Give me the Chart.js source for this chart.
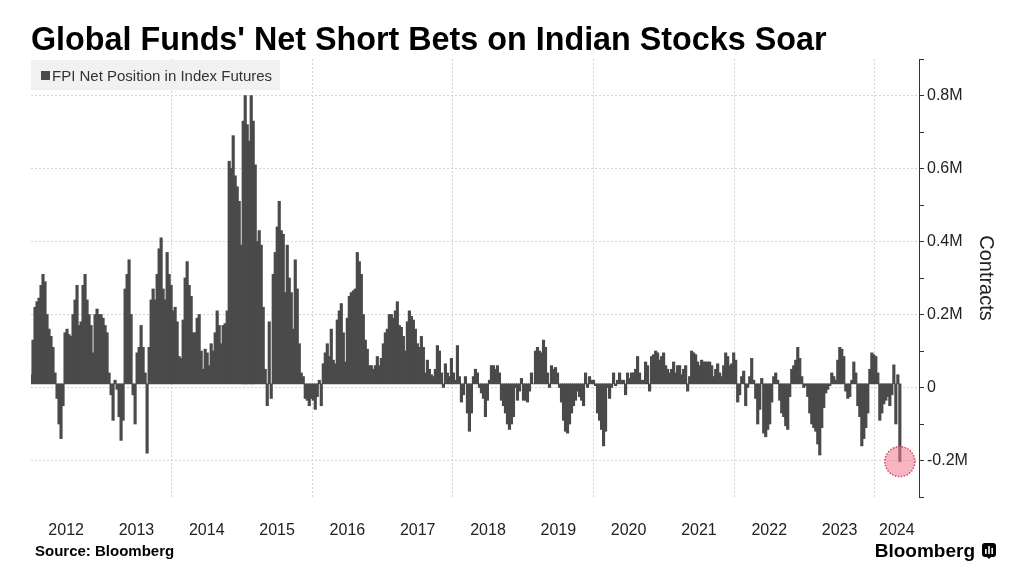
<!DOCTYPE html>
<html>
<head>
<meta charset="utf-8">
<script src="https://cdn.jsdelivr.net/npm/chart.js@4.4.1/dist/chart.umd.min.js"></script>
<style>
  html, body { margin: 0; padding: 0; background: #fff; }
  #wrap { position: relative; width: 1024px; height: 585px; overflow: hidden; font-family: "Liberation Sans", Arial, sans-serif; }
  #chart { position: absolute; left: 0; top: 0; }
  #title { position: absolute; left: 31px; top: 23px; font-size: 32.3px; font-weight: bold; line-height: 1; color: #000; white-space: nowrap; }
  #legend { position: absolute; left: 31px; top: 60px; width: 249px; height: 30px; background: rgba(238, 238, 238, 0.85);
            display: flex; align-items: center; font-size: 15px; color: #333; white-space: nowrap; }
  #legend .mark { width: 9px; height: 9px; background: #4a4a4a; margin: 0 2px 0 10px; }
  #source { position: absolute; left: 35px; top: 543px; font-size: 15px; font-weight: bold; line-height: 1; color: #000; }
  #brand { position: absolute; right: 28px; top: 541px; display: flex; align-items: center; gap: 7px;
           font-size: 19px; font-weight: bold; line-height: 1; color: #000; }
</style>
</head>
<body>
<div id="wrap">
  <canvas id="chart" width="1024" height="585"></canvas>
  <div id="title">Global Funds' Net Short Bets on Indian Stocks Soar</div>
  <div id="legend"><span class="mark"></span>FPI Net Position in Index Futures</div>
  <div id="source">Source: Bloomberg</div>
  <div id="brand">
    <span>Bloomberg</span>
    <svg width="14" height="16" viewBox="0 0 14 16">
      <rect x="0" y="0" width="14" height="14" rx="3" fill="#000"/>
      <path d="M5 14 L7 16 L9 14 Z" fill="#000"/>
      <rect x="3" y="6" width="1.6" height="5" fill="#fff"/>
      <rect x="6.2" y="3" width="1.6" height="8" fill="#fff"/>
      <rect x="9.4" y="5" width="1.6" height="6" fill="#fff"/>
    </svg>
  </div>
</div>
<script>
// FPI net position in index futures, million contracts, one reading every ~10 days from Jan 2012
const netPosition = [
  0.025, 0.12, 0.21, 0.225, 0.235, 0.27, 0.30, 0.28, 0.19, 0.15,
  0.13, 0.10, 0.03, -0.04, -0.11, -0.15, -0.06, 0.14, 0.15, 0.135,
  0.13, 0.19, 0.23, 0.27, 0.16, 0.17, 0.27, 0.30, 0.23, 0.19,
  0.16, 0.085, 0.19, 0.205, 0.19, 0.19, 0.18, 0.16, 0.14, 0.03,
  -0.03, -0.10, 0.01, -0.015, -0.09, -0.155, -0.10, 0.26, 0.30, 0.34,
  0.19, -0.03, -0.11, 0.085, 0.10, 0.16, 0.10, 0.03, -0.19, 0.10,
  0.23, 0.26, 0.23, 0.30, 0.37, 0.40, 0.26, 0.23, 0.36, 0.30,
  0.27, 0.20, 0.21, 0.17, 0.075, 0.07, 0.175,
  0.29, 0.335, 0.27, 0.24, 0.14, 0.14, 0.18, 0.19, 0.09, 0.04,
  0.095, 0.085, 0.05, 0.11, 0.09, 0.14, 0.20, 0.16, 0.11, 0.16,
  0.165, 0.20, 0.61, 0.59, 0.68, 0.57, 0.54, 0.50, 0.38, 0.72,
  0.79, 0.71, 0.665, 0.79, 0.72, 0.60, 0.39, 0.42, 0.38, 0.21,
  0.04, -0.06, 0.17, -0.04, 0.30, 0.36, 0.43, 0.50, 0.42, 0.41,
  0.25, 0.38, 0.29, 0.25, 0.15, 0.34, 0.26, 0.11, 0.03, 0.02,
  -0.04, -0.045, -0.06, -0.04, -0.045, -0.07, -0.035, 0.01, -0.06, 0.055,
  0.085, 0.11, 0.075, 0.15, 0.065, 0.055, 0.175, 0.20,
  0.22, 0.14, 0.06, 0.18, 0.24, 0.25, 0.255, 0.26, 0.36, 0.335,
  0.30, 0.19, 0.12, 0.095, 0.05, 0.05, 0.04, 0.05, 0.075, 0.05,
  0.07, 0.11, 0.14, 0.15, 0.19, 0.19, 0.18, 0.20, 0.225, 0.16,
  0.155, 0.13, 0.09, 0.17, 0.20, 0.185, 0.175, 0.15, 0.11, 0.10,
  0.13, 0.10, 0.03, 0.065, 0.04, 0.025, 0.02, 0.04, 0.105, 0.09,
  0.03, -0.01, 0.055, 0.03, 0.02, 0.07, 0.03, 0.01, 0.105, 0.02,
  -0.05, -0.03, 0.02, -0.08, -0.13, -0.08, 0.02, 0.04, 0.03, -0.01,
  -0.025, -0.04, -0.09, -0.045, 0.01, 0.05, 0.05,
  0.04, 0.05, 0.03, -0.045, -0.06, -0.08, -0.11, -0.125, -0.11, -0.09,
  -0.01, -0.045, -0.02, 0.015, -0.045, -0.045, -0.05, -0.02, 0.03, 0.0,
  0.09, 0.10, 0.09, 0.085, 0.12, 0.10, 0.03, -0.01, 0.05, 0.04,
  0.045, 0.03, -0.01, -0.05, -0.10, -0.13, -0.135, -0.11, -0.08, -0.06,
  -0.045, -0.02, -0.035, -0.045, -0.06, 0.03, -0.01, 0.02, 0.01, 0.01,
  -0.005, -0.08, -0.10, -0.125, -0.17, -0.13, -0.01, -0.04, -0.01, 0.03,
  -0.005, 0.01, 0.03, 0.01, 0.01, -0.03, 0.03, 0.015, 0.03, 0.03,
  0.04, 0.075, 0.03, 0.01, 0.01, 0.06, 0.05, -0.02,
  0.075, 0.08, 0.09, 0.085, 0.065, 0.075, 0.085, 0.05, 0.04, 0.03,
  0.04, 0.06, 0.03, 0.05, 0.05, 0.025, 0.04, 0.05, -0.02, 0.02,
  0.09, 0.085, 0.08, 0.06, 0.05, 0.065, 0.06, 0.06, 0.06, 0.06,
  0.05, 0.02, 0.04, 0.055, 0.03, 0.02, 0.05, 0.085, 0.075, 0.05,
  0.055, 0.085, 0.065, -0.05, -0.03, 0.02, 0.035, -0.06, -0.01, 0.02,
  0.07, 0.01, -0.04, -0.11, -0.07, 0.015, -0.135, -0.145, -0.125, -0.11,
  -0.05, 0.02, 0.03, 0.01, -0.045, -0.08, -0.09, -0.115, -0.125, -0.035,
  0.04, 0.05, 0.065, 0.10, 0.07, 0.02, -0.01,
  -0.005, -0.035, -0.08, -0.11, -0.12, -0.13, -0.165, -0.195, -0.12, -0.065,
  -0.025, -0.015, -0.005, 0.03, 0.02, 0.01, 0.065, 0.10, 0.095, 0.075,
  -0.02, -0.04, -0.035, 0.01, 0.06, 0.03, -0.06, -0.09, -0.17, -0.15,
  -0.12, -0.08, 0.04, 0.085, 0.08, 0.075, 0.03, -0.10, -0.08, -0.055,
  -0.045, -0.035, -0.06, -0.03, 0.052, -0.11, 0.025, -0.213
];

// sample dates as decimal years (regular ~10.4 day grid)
const startYear = 2012;
const stepYears = 10.4 / 365.25;
const sampleDates = netPosition.map((v, i) => startYear + i * stepYears);

const yearLabels = ['2012', '2013', '2014', '2015', '2016', '2017', '2018',
                    '2019', '2020', '2021', '2022', '2023', '2024'];
const gridYears = [2014, 2016, 2018, 2020, 2022, 2024];
const axisMinYear = 2012;
const axisMaxYear = 2024.63;
const valueMin = -0.31;
const valueMax = 0.89;

const barColor = '#4a4a4a';
const gridColor = '#d4d4d4';
const textColor = '#222';

Chart.defaults.font.family = '"Liberation Sans", Arial, sans-serif';
Chart.defaults.color = textColor;

// pink marker round the latest reading
const latestMarker = {
  id: 'latestMarker',
  afterDatasetsDraw(chart) {
    const meta = chart.getDatasetMeta(0);
    const bar = meta.data[meta.data.length - 1];
    if (!bar) return;
    const ctx = chart.ctx;
    ctx.save();
    ctx.beginPath();
    ctx.arc(bar.x, bar.y, 15, 0, Math.PI * 2);
    ctx.fillStyle = 'rgba(238, 120, 140, 0.55)';
    ctx.fill();
    ctx.setLineDash([1.5, 1.5]);
    ctx.lineWidth = 1.5;
    ctx.strokeStyle = '#d44a62';
    ctx.stroke();
    ctx.restore();
  }
};

const ctx = document.getElementById('chart').getContext('2d');
new Chart(ctx, {
  type: 'bar',
  data: {
    datasets: [{
      label: 'FPI Net Position in Index Futures',
      data: netPosition.map((v, i) => ({ x: sampleDates[i], y: v })),
      backgroundColor: barColor,
      borderWidth: 0,
      barThickness: 2.5,
      barPercentage: 1,
      categoryPercentage: 1
    }]
  },
  options: {
    responsive: false,
    animation: false,
    devicePixelRatio: 1,
    layout: { padding: { left: 31, top: 59, right: 0, bottom: 0 } },
    plugins: {
      legend: { display: false },
      tooltip: { enabled: false }
    },
    scales: {
      x: {
        type: 'linear',
        min: axisMinYear,
        max: axisMaxYear,
        offset: false,
        afterFit: (scale) => { scale.height = 88; },
        afterBuildTicks: (scale) => {
          const ticks = gridYears.map((y) => ({ value: y }));
          yearLabels.forEach((label, i) => {
            const year = Number(label);
            const mid = i === yearLabels.length - 1 ? (year + scale.max) / 2 : year + 0.5;
            ticks.push({ value: mid });
          });
          scale.ticks = ticks.sort((a, b) => a.value - b.value);
        },
        ticks: {
          autoSkip: false,
          maxRotation: 0,
          minRotation: 0,
          padding: 24,
          font: { size: 16 },
          color: textColor,
          callback: (value) => Number.isInteger(value) ? '' : String(Math.floor(value))
        },
        grid: {
          offset: false,
          drawTicks: false,
          color: (c) => {
            const v = c.tick ? c.tick.value : null;
            return gridYears.includes(v) ? gridColor : 'rgba(0,0,0,0)';
          }
        },
        border: { display: false, dash: [2, 2] }
      },
      y: {
        position: 'right',
        min: valueMin,
        max: valueMax,
        afterFit: (scale) => { scale.width = 105; },
        ticks: {
          stepSize: 0.1,
          includeBounds: false,
          padding: 3,
          font: { size: 16 },
          color: textColor,
          callback: (value) => {
            const tenth = Math.round(value * 10);
            if (tenth % 2 !== 0) return '';
            if (tenth === 0) return '0';
            return `${(tenth / 10).toFixed(1)}M`;
          }
        },
        grid: {
          tickLength: 5,
          tickColor: '#333',
          color: (c) => {
            const v = c.tick ? Math.round(c.tick.value * 10) : 1;
            return v % 2 === 0 ? gridColor : 'rgba(0,0,0,0)';
          }
        },
        border: { display: true, color: '#333', width: 1, dash: [2, 2] },
        title: {
          display: true,
          text: 'Contracts',
          font: { size: 20 },
          color: textColor,
          padding: { top: 26, bottom: 0 }
        }
      }
    }
  },
  plugins: [latestMarker]
});
</script>
</body>
</html>
